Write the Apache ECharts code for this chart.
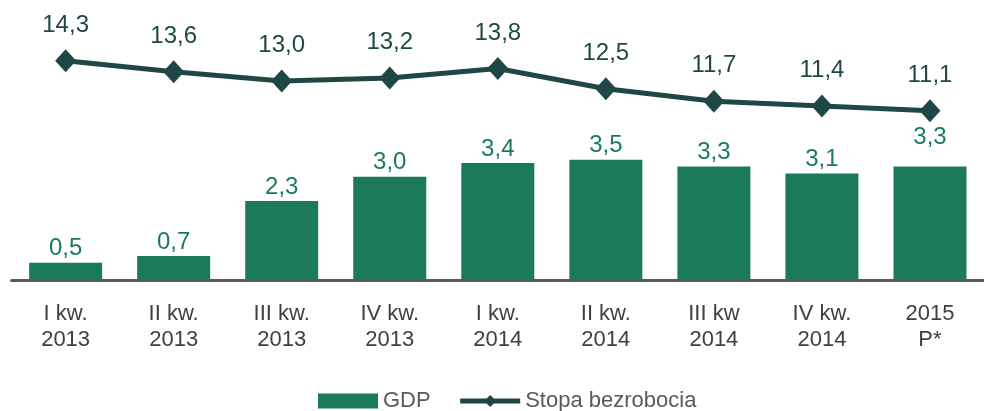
<html>
<head>
<meta charset="utf-8">
<script src="https://cdn.jsdelivr.net/npm/echarts@6/dist/echarts.min.js"></script>
<style>
    html, body { margin: 0; padding: 0; background: #fff; }
    #main { width: 984px; height: 411px; }
</style>
</head>
<body>
<div id="main"></div>
<script>
    var categories = [
        'I kw.\n2013', 'II kw.\n2013', 'III kw.\n2013', 'IV kw.\n2013',
        'I kw.\n2014', 'II kw.\n2014', 'III kw\n2014', 'IV kw.\n2014', '2015\nP*'
    ];
    var gdp = [0.5, 0.7, 2.3, 3.0, 3.4, 3.5, 3.3, 3.1, 3.3];
    var unemployment = [14.3, 13.6, 13.0, 13.2, 13.8, 12.5, 11.7, 11.4, 11.1];

    var FONT = "'Liberation Sans', Arial, sans-serif";
    var BAR_COLOR = '#1b7b59';
    var LINE_COLOR = '#1f4745';

    function fmt(p) {
        return p.value.toFixed(1).replace('.', ',');
    }

    // last bar label sits a bit higher in the original
    var gdpData = gdp.map(function (v, i) {
        if (i === gdp.length - 1) {
            return {value: v, label: {offset: [0, -15]}};
        }
        return v;
    });

    var chart = echarts.init(document.getElementById('main'), null, {renderer: 'canvas'});

    chart.setOption({
        animation: false,
        textStyle: {fontFamily: FONT},
        grid: {left: 11.6, right: -7, top: 20, bottom: 131},
        legend: {
            left: 313,
            top: 385,
            itemWidth: 60,
            itemHeight: 15,
            itemGap: 27,
            textStyle: {fontSize: 22, color: '#595959', fontFamily: FONT},
            data: [
                {name: 'GDP', icon: 'rect'},
                {name: 'Stopa bezrobocia', lineStyle: {width: 5}}
            ]
        },
        xAxis: {
            type: 'category',
            data: categories,
            axisTick: {show: false},
            axisLine: {lineStyle: {color: '#595959', width: 3}},
            axisLabel: {
                color: '#404040',
                fontSize: 22,
                lineHeight: 26,
                margin: 21,
                fontFamily: FONT,
                interval: 0
            }
        },
        yAxis: [
            {type: 'value', min: 0, max: 7.56, show: false, splitLine: {show: false}},
            {type: 'value', min: 0.25, max: 16.91, show: false, splitLine: {show: false}}
        ],
        series: [
            {
                name: 'GDP',
                type: 'bar',
                yAxisIndex: 0,
                barWidth: 73,
                itemStyle: {color: BAR_COLOR},
                label: {
                    show: true,
                    position: 'top',
                    distance: 2,
                    fontSize: 24,
                    color: BAR_COLOR,
                    fontFamily: FONT,
                    formatter: fmt
                },
                data: gdpData
            },
            {
                name: 'Stopa bezrobocia',
                type: 'line',
                yAxisIndex: 1,
                z: 5,
                symbol: 'diamond',
                symbolSize: [21, 23],
                lineStyle: {color: LINE_COLOR, width: 5},
                itemStyle: {color: LINE_COLOR},
                label: {
                    show: true,
                    position: 'top',
                    distance: 12,
                    fontSize: 24,
                    color: LINE_COLOR,
                    fontFamily: FONT,
                    formatter: fmt
                },
                data: unemployment
            }
        ]
    });
</script>
</body>
</html>
